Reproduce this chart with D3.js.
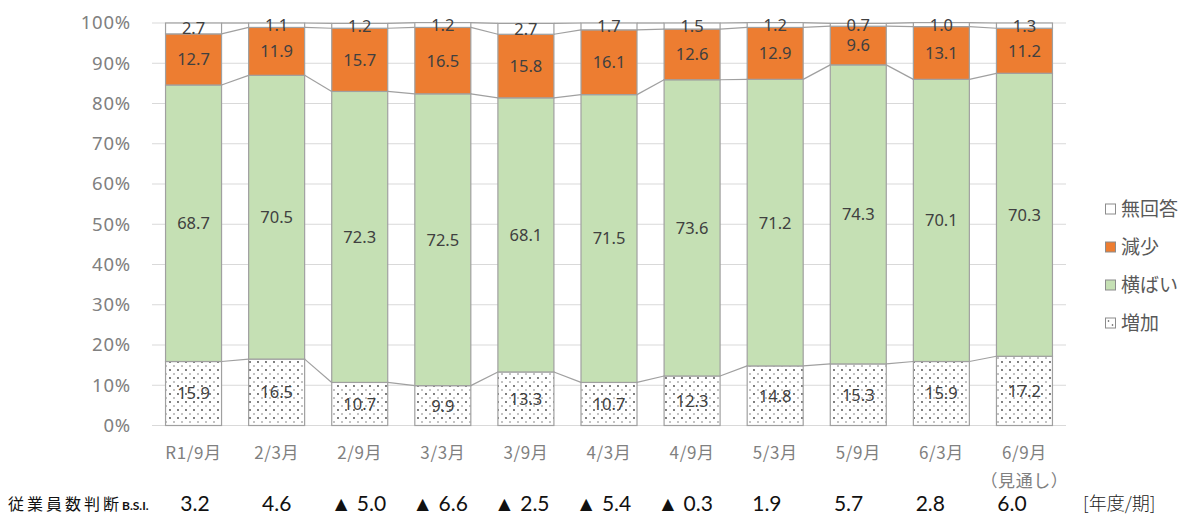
<!DOCTYPE html>
<html>
<head>
<meta charset="utf-8">
<script src="https://cdn.jsdelivr.net/npm/d3@7"></script>
<style>
  html, body { margin: 0; padding: 0; background: #fff; }
  svg { display: block; }
</style>
</head>
<body>
<svg id="chart" width="1198" height="515"></svg>
<script>
// Survey periods (fiscal year / month)
const periods = ["R1/9月", "2/3月", "2/9月", "3/3月", "3/9月", "4/3月", "4/9月", "5/3月", "5/9月", "6/3月", "6/9月"];
const periodNotes = ["", "", "", "", "", "", "", "", "", "", "（見通し）"];

// Share of responses (%) per period, bottom to top
const increase   = [15.9, 16.5, 10.7, 9.9, 13.3, 10.7, 12.3, 14.8, 15.3, 15.9, 17.2];
const flat       = [68.7, 70.5, 72.3, 72.5, 68.1, 71.5, 73.6, 71.2, 74.3, 70.1, 70.3];
const decrease   = [12.7, 11.9, 15.7, 16.5, 15.8, 16.1, 12.6, 12.9, 9.6, 13.1, 11.2];
const noAnswer   = [2.7, 1.1, 1.2, 1.2, 2.7, 1.7, 1.5, 1.2, 0.7, 1.0, 1.3];

// Employment B.S.I. per period (▲ marks a negative value)
const bsiLabels = ["3.2", "4.6", "▲ 5.0", "▲ 6.6", "▲ 2.5", "▲ 5.4", "▲ 0.3", "1.9", "5.7", "2.8", "6.0"];

const yTicks = [0, 10, 20, 30, 40, 50, 60, 70, 80, 90, 100];

const seriesDefs = [
  { key: "increase", name: "増加",   values: increase, fill: "url(#dots)" },
  { key: "flat",     name: "横ばい", values: flat,     fill: "#c5e0b4" },
  { key: "decrease", name: "減少",   values: decrease, fill: "#ed7d31" },
  { key: "noAnswer", name: "無回答", values: noAnswer, fill: "#ffffff" }
];

const svg = d3.select("#chart");
const plotLeft = 152, plotRight = 1066, plotTop = 23, plotBottom = 425.5;

// dotted fill for the "increase" segment
const defs = svg.append("defs");
const pat = defs.append("pattern")
  .attr("id", "dots").attr("patternUnits", "userSpaceOnUse")
  .attr("width", 8).attr("height", 8);
pat.append("rect").attr("width", 8).attr("height", 8).attr("fill", "#fff");
pat.append("circle").attr("cx", 2).attr("cy", 2).attr("r", 0.9).attr("fill", "#444");
pat.append("circle").attr("cx", 6).attr("cy", 6).attr("r", 0.8).attr("fill", "#777");

const x = d3.scaleBand().domain(periods).range([plotLeft, plotRight]).paddingInner(0.326).paddingOuter(0.163);
const y = d3.scaleLinear().domain([0, 100]).range([plotBottom, plotTop]);

// gridlines
svg.append("g").selectAll("line").data(yTicks).join("line")
  .attr("x1", plotLeft).attr("x2", plotRight)
  .attr("y1", d => y(d)).attr("y2", d => y(d))
  .attr("stroke", "#d9d9d9").attr("stroke-width", 1.2);

// y axis labels
const yAxis = d3.axisLeft(y).tickValues(yTicks).tickFormat(d => d + "%").tickSize(0).tickPadding(0);
const yg = svg.append("g").attr("transform", `translate(${131},0)`).call(yAxis);
yg.select(".domain").remove();
yg.selectAll("text")
  .attr("font-family", "'Noto Sans', 'Noto Sans CJK JP', sans-serif")
  .attr("font-size", 18.5).attr("letter-spacing", 0.8).attr("fill", "#808080");

// stacked data
const rows = periods.map((p, i) => {
  const r = { period: p };
  seriesDefs.forEach(s => r[s.key] = s.values[i]);
  return r;
});
const stack = d3.stack().keys(seriesDefs.map(s => s.key));
const layers = stack(rows);

// series lines joining segment tops of neighbouring bars
const lineG = svg.append("g");
layers.forEach(layer => {
  for (let i = 0; i < layer.length - 1; i++) {
    lineG.append("line")
      .attr("x1", x(periods[i]) + x.bandwidth())
      .attr("x2", x(periods[i + 1]))
      .attr("y1", y(layer[i][1]))
      .attr("y2", y(layer[i + 1][1]))
      .attr("stroke", "#a0a0a0").attr("stroke-width", 1.2);
  }
});

// bars
const barG = svg.append("g");
layers.forEach((layer, li) => {
  barG.append("g").selectAll("rect").data(layer).join("rect")
    .attr("x", d => x(d.data.period))
    .attr("y", d => y(d[1]))
    .attr("width", x.bandwidth())
    .attr("height", d => y(d[0]) - y(d[1]))
    .attr("fill", seriesDefs[li].fill)
    .attr("stroke", "#a0a0a0").attr("stroke-width", 1.2);
});

// value labels
const labelG = svg.append("g")
  .attr("font-family", "'Noto Sans', 'Noto Sans CJK JP', sans-serif")
  .attr("font-size", 16.5).attr("fill", "#404040").attr("text-anchor", "middle");
layers.forEach((layer, li) => {
  labelG.append("g").selectAll("text").data(layer).join("text")
    .attr("x", d => x(d.data.period) + x.bandwidth() / 2)
    .attr("y", d => (y(d[0]) + y(d[1])) / 2)
    .attr("dy", "0.36em")
    .text(d => seriesDefs[li].values[periods.indexOf(d.data.period)].toFixed(1));
});

// category labels
const xg = svg.append("g")
  .attr("font-family", "'Noto Sans CJK JP', 'Noto Sans', sans-serif")
  .attr("font-size", 17).attr("letter-spacing", 0.6).attr("fill", "#808080").attr("text-anchor", "middle");
xg.selectAll("text.cat").data(periods).join("text").attr("class", "cat")
  .attr("x", d => x(d) + x.bandwidth() / 2).attr("y", 459).text(d => d);
xg.selectAll("text.note").data(periods.filter((d, i) => periodNotes[i])).join("text").attr("class", "note")
  .attr("x", d => x(d) + x.bandwidth() / 2).attr("y", 487)
  .text(d => periodNotes[periods.indexOf(d)]);

// legend (top entry first)
const legendItems = seriesDefs.slice().reverse();
const lg = svg.append("g").attr("font-family", "'Noto Sans CJK JP', sans-serif")
  .attr("font-size", 19).attr("fill", "#595959");
legendItems.forEach((s, i) => {
  const cy = 209 + i * 38;
  lg.append("rect").attr("x", 1105.5).attr("y", cy - 5).attr("width", 10).attr("height", 10)
    .attr("fill", s.key === "increase" ? "#fff" : s.fill)
    .attr("stroke", "#8c8c8c").attr("stroke-width", 1);
  if (s.key === "increase") {
    lg.append("circle").attr("cx", 1108.5).attr("cy", cy - 2).attr("r", 0.8).attr("fill", "#444");
    lg.append("circle").attr("cx", 1112.5).attr("cy", cy + 2).attr("r", 0.8).attr("fill", "#444");
  }
  lg.append("text").attr("x", 1121).attr("y", cy).attr("dy", "0.36em").text(s.name);
});

// B.S.I. row
const bx = d3.scalePoint().domain(periods).range([195, 1012]);
svg.append("g").attr("font-family", "Lato, 'Noto Sans', sans-serif")
  .attr("font-size", 21).attr("fill", "#111").attr("text-anchor", "middle")
  .selectAll("text").data(bsiLabels).join("text")
  .attr("x", (d, i) => bx(periods[i])).attr("y", 511).text(d => d);

const title = svg.append("text").attr("x", 8).attr("y", 510)
  .attr("font-family", "'Noto Sans CJK JP', sans-serif").attr("fill", "#111");
title.append("tspan").attr("font-size", 16).attr("letter-spacing", 3).text("従業員数判断");
title.append("tspan").attr("font-size", 12).attr("font-weight", "bold").attr("font-family", "Lato, sans-serif").text("B.S.I.");

svg.append("text").attr("x", 1083).attr("y", 510)
  .attr("font-family", "'Noto Sans CJK JP', serif").attr("font-weight", 300)
  .attr("font-size", 18).attr("fill", "#222").text("[年度/期]");
</script>
</body>
</html>
